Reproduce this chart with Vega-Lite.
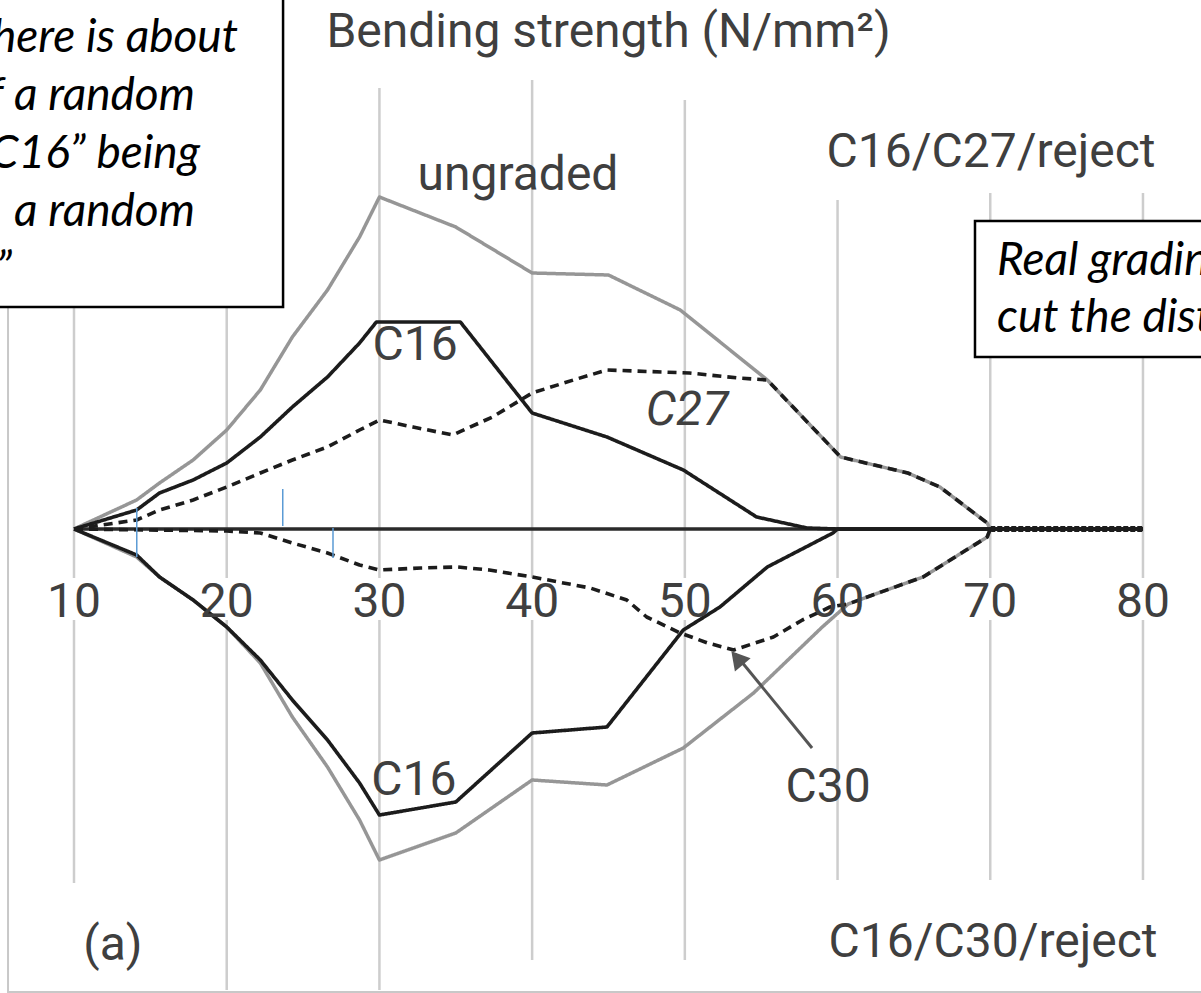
{
  "$schema": "https://vega.github.io/schema/vega-lite/v6.json",
  "width": 1201,
  "height": 993,
  "autosize": "none",
  "padding": 0,
  "background": "white",
  "config": {"view": {"stroke": null}},
  "datasets": {
    "curves": [
      {"curve": "top ungraded", "grade": "ungraded", "strength": 10, "share": 0},
      {"curve": "top ungraded", "grade": "ungraded", "strength": 14.1, "share": 2.9},
      {"curve": "top ungraded", "grade": "ungraded", "strength": 15.6, "share": 4.6},
      {"curve": "top ungraded", "grade": "ungraded", "strength": 17.8, "share": 6.9},
      {"curve": "top ungraded", "grade": "ungraded", "strength": 20, "share": 9.9},
      {"curve": "top ungraded", "grade": "ungraded", "strength": 22.2, "share": 13.9},
      {"curve": "top ungraded", "grade": "ungraded", "strength": 24.3, "share": 19.2},
      {"curve": "top ungraded", "grade": "ungraded", "strength": 26.6, "share": 23.9},
      {"curve": "top ungraded", "grade": "ungraded", "strength": 28.7, "share": 29.2},
      {"curve": "top ungraded", "grade": "ungraded", "strength": 30, "share": 33.2},
      {"curve": "top ungraded", "grade": "ungraded", "strength": 35, "share": 30.2},
      {"curve": "top ungraded", "grade": "ungraded", "strength": 40, "share": 25.6},
      {"curve": "top ungraded", "grade": "ungraded", "strength": 45, "share": 25.4},
      {"curve": "top ungraded", "grade": "ungraded", "strength": 49.7, "share": 21.9},
      {"curve": "top ungraded", "grade": "ungraded", "strength": 55.4, "share": 14.9},
      {"curve": "top ungraded", "grade": "ungraded", "strength": 60.2, "share": 7.2},
      {"curve": "top ungraded", "grade": "ungraded", "strength": 64.6, "share": 5.6},
      {"curve": "top ungraded", "grade": "ungraded", "strength": 66.7, "share": 4.2},
      {"curve": "top ungraded", "grade": "ungraded", "strength": 69.8, "share": 0.6},
      {"curve": "top ungraded", "grade": "ungraded", "strength": 70, "share": 0},
      {"curve": "top ungraded", "grade": "ungraded", "strength": 80, "share": 0},

      {"curve": "top C16", "grade": "C16", "strength": 10, "share": 0},
      {"curve": "top C16", "grade": "C16", "strength": 14.1, "share": 1.9},
      {"curve": "top C16", "grade": "C16", "strength": 15.6, "share": 3.6},
      {"curve": "top C16", "grade": "C16", "strength": 17.8, "share": 4.9},
      {"curve": "top C16", "grade": "C16", "strength": 20, "share": 6.6},
      {"curve": "top C16", "grade": "C16", "strength": 22.2, "share": 9.2},
      {"curve": "top C16", "grade": "C16", "strength": 24.3, "share": 12.2},
      {"curve": "top C16", "grade": "C16", "strength": 26.6, "share": 15.2},
      {"curve": "top C16", "grade": "C16", "strength": 28.7, "share": 18.6},
      {"curve": "top C16", "grade": "C16", "strength": 29.8, "share": 20.7},
      {"curve": "top C16", "grade": "C16", "strength": 35.3, "share": 20.7},
      {"curve": "top C16", "grade": "C16", "strength": 40, "share": 11.6},
      {"curve": "top C16", "grade": "C16", "strength": 44.9, "share": 9.2},
      {"curve": "top C16", "grade": "C16", "strength": 49.9, "share": 5.9},
      {"curve": "top C16", "grade": "C16", "strength": 54.7, "share": 1.2},
      {"curve": "top C16", "grade": "C16", "strength": 58, "share": 0.1},
      {"curve": "top C16", "grade": "C16", "strength": 60, "share": 0},
      {"curve": "top C16", "grade": "C16", "strength": 80, "share": 0},

      {"curve": "top C27", "grade": "C27", "strength": 10, "share": 0},
      {"curve": "top C27", "grade": "C27", "strength": 14.1, "share": 0.9},
      {"curve": "top C27", "grade": "C27", "strength": 15.6, "share": 1.9},
      {"curve": "top C27", "grade": "C27", "strength": 17.8, "share": 2.9},
      {"curve": "top C27", "grade": "C27", "strength": 20, "share": 4.2},
      {"curve": "top C27", "grade": "C27", "strength": 22.2, "share": 5.6},
      {"curve": "top C27", "grade": "C27", "strength": 24.3, "share": 6.9},
      {"curve": "top C27", "grade": "C27", "strength": 26.6, "share": 8.2},
      {"curve": "top C27", "grade": "C27", "strength": 28.7, "share": 9.9},
      {"curve": "top C27", "grade": "C27", "strength": 30, "share": 10.9},
      {"curve": "top C27", "grade": "C27", "strength": 32.2, "share": 10.2},
      {"curve": "top C27", "grade": "C27", "strength": 34.8, "share": 9.4},
      {"curve": "top C27", "grade": "C27", "strength": 37.4, "share": 11.2},
      {"curve": "top C27", "grade": "C27", "strength": 40, "share": 13.6},
      {"curve": "top C27", "grade": "C27", "strength": 42.7, "share": 14.9},
      {"curve": "top C27", "grade": "C27", "strength": 44.9, "share": 15.9},
      {"curve": "top C27", "grade": "C27", "strength": 50.3, "share": 15.6},
      {"curve": "top C27", "grade": "C27", "strength": 53.5, "share": 15.1},
      {"curve": "top C27", "grade": "C27", "strength": 55.4, "share": 14.9},
      {"curve": "top C27", "grade": "C27", "strength": 60.2, "share": 7.2},
      {"curve": "top C27", "grade": "C27", "strength": 64.6, "share": 5.6},
      {"curve": "top C27", "grade": "C27", "strength": 66.7, "share": 4.2},
      {"curve": "top C27", "grade": "C27", "strength": 69.8, "share": 0.6},
      {"curve": "top C27", "grade": "C27", "strength": 70, "share": 0},
      {"curve": "top C27", "grade": "C27", "strength": 80, "share": 0},

      {"curve": "bottom ungraded", "grade": "ungraded", "strength": 10, "share": 0},
      {"curve": "bottom ungraded", "grade": "ungraded", "strength": 14.1, "share": -2.8},
      {"curve": "bottom ungraded", "grade": "ungraded", "strength": 15.6, "share": -4.8},
      {"curve": "bottom ungraded", "grade": "ungraded", "strength": 17.8, "share": -7.1},
      {"curve": "bottom ungraded", "grade": "ungraded", "strength": 20, "share": -9.8},
      {"curve": "bottom ungraded", "grade": "ungraded", "strength": 22.2, "share": -13.4},
      {"curve": "bottom ungraded", "grade": "ungraded", "strength": 24.3, "share": -18.8},
      {"curve": "bottom ungraded", "grade": "ungraded", "strength": 26.6, "share": -23.8},
      {"curve": "bottom ungraded", "grade": "ungraded", "strength": 28.7, "share": -29.1},
      {"curve": "bottom ungraded", "grade": "ungraded", "strength": 30, "share": -33.1},
      {"curve": "bottom ungraded", "grade": "ungraded", "strength": 35, "share": -30.4},
      {"curve": "bottom ungraded", "grade": "ungraded", "strength": 40, "share": -25.1},
      {"curve": "bottom ungraded", "grade": "ungraded", "strength": 44.9, "share": -25.6},
      {"curve": "bottom ungraded", "grade": "ungraded", "strength": 49.9, "share": -21.9},
      {"curve": "bottom ungraded", "grade": "ungraded", "strength": 54.5, "share": -16.4},
      {"curve": "bottom ungraded", "grade": "ungraded", "strength": 59, "share": -9.8},
      {"curve": "bottom ungraded", "grade": "ungraded", "strength": 60.7, "share": -7.5},
      {"curve": "bottom ungraded", "grade": "ungraded", "strength": 62.3, "share": -6.6},
      {"curve": "bottom ungraded", "grade": "ungraded", "strength": 65.6, "share": -4.8},
      {"curve": "bottom ungraded", "grade": "ungraded", "strength": 69.8, "share": -0.8},
      {"curve": "bottom ungraded", "grade": "ungraded", "strength": 70, "share": 0},
      {"curve": "bottom ungraded", "grade": "ungraded", "strength": 80, "share": 0},

      {"curve": "bottom C16", "grade": "C16", "strength": 10, "share": 0},
      {"curve": "bottom C16", "grade": "C16", "strength": 14.1, "share": -2.6},
      {"curve": "bottom C16", "grade": "C16", "strength": 15.6, "share": -4.8},
      {"curve": "bottom C16", "grade": "C16", "strength": 17.8, "share": -7.1},
      {"curve": "bottom C16", "grade": "C16", "strength": 20, "share": -9.8},
      {"curve": "bottom C16", "grade": "C16", "strength": 22.2, "share": -13.1},
      {"curve": "bottom C16", "grade": "C16", "strength": 24.3, "share": -17.1},
      {"curve": "bottom C16", "grade": "C16", "strength": 26.6, "share": -21.1},
      {"curve": "bottom C16", "grade": "C16", "strength": 28.7, "share": -25.4},
      {"curve": "bottom C16", "grade": "C16", "strength": 30, "share": -28.6},
      {"curve": "bottom C16", "grade": "C16", "strength": 35, "share": -27.3},
      {"curve": "bottom C16", "grade": "C16", "strength": 40, "share": -20.4},
      {"curve": "bottom C16", "grade": "C16", "strength": 44.9, "share": -19.8},
      {"curve": "bottom C16", "grade": "C16", "strength": 49.9, "share": -10.1},
      {"curve": "bottom C16", "grade": "C16", "strength": 52.3, "share": -7.8},
      {"curve": "bottom C16", "grade": "C16", "strength": 55.4, "share": -3.8},
      {"curve": "bottom C16", "grade": "C16", "strength": 59.7, "share": -0.4},
      {"curve": "bottom C16", "grade": "C16", "strength": 60, "share": 0},
      {"curve": "bottom C16", "grade": "C16", "strength": 80, "share": 0},

      {"curve": "bottom C30", "grade": "C30", "strength": 10, "share": 0},
      {"curve": "bottom C30", "grade": "C30", "strength": 20, "share": -0.2},
      {"curve": "bottom C30", "grade": "C30", "strength": 22.2, "share": -0.4},
      {"curve": "bottom C30", "grade": "C30", "strength": 24.3, "share": -1.4},
      {"curve": "bottom C30", "grade": "C30", "strength": 26.6, "share": -2.4},
      {"curve": "bottom C30", "grade": "C30", "strength": 28.7, "share": -3.6},
      {"curve": "bottom C30", "grade": "C30", "strength": 30, "share": -4.1},
      {"curve": "bottom C30", "grade": "C30", "strength": 32.7, "share": -3.9},
      {"curve": "bottom C30", "grade": "C30", "strength": 35.1, "share": -3.8},
      {"curve": "bottom C30", "grade": "C30", "strength": 37.2, "share": -4.1},
      {"curve": "bottom C30", "grade": "C30", "strength": 40, "share": -4.8},
      {"curve": "bottom C30", "grade": "C30", "strength": 43.8, "share": -5.9},
      {"curve": "bottom C30", "grade": "C30", "strength": 46.2, "share": -7.1},
      {"curve": "bottom C30", "grade": "C30", "strength": 47.5, "share": -8.8},
      {"curve": "bottom C30", "grade": "C30", "strength": 49.7, "share": -10.4},
      {"curve": "bottom C30", "grade": "C30", "strength": 51.5, "share": -11.4},
      {"curve": "bottom C30", "grade": "C30", "strength": 53.2, "share": -12.1},
      {"curve": "bottom C30", "grade": "C30", "strength": 55.8, "share": -10.8},
      {"curve": "bottom C30", "grade": "C30", "strength": 57.7, "share": -9.1},
      {"curve": "bottom C30", "grade": "C30", "strength": 59.5, "share": -7.8},
      {"curve": "bottom C30", "grade": "C30", "strength": 60.7, "share": -7.5},
      {"curve": "bottom C30", "grade": "C30", "strength": 62.3, "share": -6.6},
      {"curve": "bottom C30", "grade": "C30", "strength": 65.6, "share": -4.8},
      {"curve": "bottom C30", "grade": "C30", "strength": 69.8, "share": -0.8},
      {"curve": "bottom C30", "grade": "C30", "strength": 70, "share": 0},
      {"curve": "bottom C30", "grade": "C30", "strength": 80, "share": 0}
    ],
    "grid": [
      {"strength": 10, "share": 46.9, "share2": -4.9}, {"strength": 10, "share": -9.1, "share2": -35.4},
      {"strength": 20, "share": 46.9, "share2": -4.9}, {"strength": 20, "share": -9.1, "share2": -46.1},
      {"strength": 30, "share": 44.1, "share2": -4.9}, {"strength": 30, "share": -9.1, "share2": -46.1},
      {"strength": 40, "share": 44.9, "share2": -4.9}, {"strength": 40, "share": -9.1, "share2": -43.1},
      {"strength": 50, "share": 42.9, "share2": -4.9}, {"strength": 50, "share": -9.1, "share2": -43.1},
      {"strength": 60, "share": 32.9, "share2": -4.9}, {"strength": 60, "share": -9.1, "share2": -35.1},
      {"strength": 70, "share": 33.6, "share2": -4.9}, {"strength": 70, "share": -9.1, "share2": -35.1},
      {"strength": 80, "share": 33.6, "share2": -4.9}, {"strength": 80, "share": -9.1, "share2": -35.1}
    ],
    "frame": [
      {"strength": 5.68, "strength2": 87, "share": -46.3, "share2": 56}
    ],
    "baseline": [
      {"strength": 10, "strength2": 80, "share": 0}
    ],
    "tail": [
      {"strength": 70, "strength2": 80, "share": 0}
    ],
    "markers": [
      {"strength": 14.11, "share": 2.1, "share2": -2.8},
      {"strength": 23.67, "share": 4.0, "share2": 0.3},
      {"strength": 26.96, "share": 0.1, "share2": -2.9}
    ],
    "labels": [
      {"text": "Bending strength (N/mm²)", "strength": 45.0, "share": 48.2},
      {"text": "ungraded", "strength": 39.07, "share": 33.9},
      {"text": "C16/C27/reject", "strength": 70.05, "share": 36.2},
      {"text": "C16", "strength": 32.33, "share": 16.9},
      {"text": "C16", "strength": 32.26, "share": -26.6},
      {"text": "C30", "strength": 59.38, "share": -27.3},
      {"text": "(a)", "strength": 12.55, "share": -43.1},
      {"text": "C16/C30/reject", "strength": 70.18, "share": -42.8},
      {"text": "10", "strength": 10, "share": -8.8},
      {"text": "20", "strength": 20, "share": -8.8},
      {"text": "30", "strength": 30, "share": -8.8},
      {"text": "40", "strength": 40, "share": -8.8},
      {"text": "50", "strength": 50, "share": -8.8},
      {"text": "60", "strength": 60, "share": -8.8},
      {"text": "70", "strength": 70, "share": -8.8},
      {"text": "80", "strength": 80, "share": -8.8}
    ],
    "slanted": [
      {"text": "C27", "strength": 50.14, "share": 10.4}
    ],
    "arrow": [
      {"strength": 58.33, "share": -21.9},
      {"strength": 53.3, "share": -12.5}
    ],
    "arrowhead": [
      {"strength": 53.42, "share": -12.9}
    ],
    "boxes": [
      {"strength": 4.4, "strength2": 23.69, "share": 22.2, "share2": 54},
      {"strength": 69.0, "strength2": 87, "share": 17.2, "share2": 30.8}
    ],
    "leftnote": [
      {"text": "there is about", "strength": 20.74, "share": 47.7},
      {"text": "of a random", "strength": 17.92, "share": 41.9},
      {"text": "“C16” being", "strength": 18.25, "share": 36.1},
      {"text": "a random", "strength": 17.92, "share": 30.3},
      {"text": "“C27”", "strength": 5.94, "share": 24.5}
    ],
    "rightnote": [
      {"text": "Real grading will", "strength": 70.44, "share": 25.4},
      {"text": "cut the distribution", "strength": 70.44, "share": 19.7}
    ]
  },
  "encoding": {
    "x": {"field": "strength", "type": "quantitative", "scale": {"domain": [5.154, 83.8], "nice": false, "zero": false}, "axis": null},
    "y": {"field": "share", "type": "quantitative", "scale": {"domain": [-46.4, 52.9], "nice": false, "zero": false}, "axis": null}
  },
  "layer": [
    {
      "data": {"name": "grid"},
      "mark": {"type": "rule", "color": "#cdcdcd", "strokeWidth": 2.5},
      "encoding": {"y2": {"field": "share2"}}
    },
    {
      "data": {"name": "frame"},
      "mark": {"type": "rect", "fill": "white", "fillOpacity": 0, "stroke": "#c8c8c8", "strokeWidth": 2},
      "encoding": {"x2": {"field": "strength2"}, "y2": {"field": "share2"}}
    },
    {
      "data": {"name": "baseline"},
      "mark": {"type": "rule", "color": "#2a2a2a", "strokeWidth": 3.5},
      "encoding": {"x2": {"field": "strength2"}}
    },
    {
      "data": {"name": "tail"},
      "mark": {"type": "rule", "color": "#1c1c1c", "strokeWidth": 6, "strokeDash": [5, 2]},
      "encoding": {"x2": {"field": "strength2"}}
    },
    {
      "data": {"name": "curves"},
      "transform": [{"filter": "datum.grade === 'ungraded'"}],
      "mark": {"type": "line", "strokeWidth": 3.5, "strokeJoin": "round"},
      "encoding": {
        "detail": {"field": "curve"},
        "color": {"field": "grade", "type": "nominal", "scale": {"domain": ["ungraded", "C16", "C27", "C30"], "range": ["#969696", "#1c1c1c", "#1c1c1c", "#1c1c1c"]}, "legend": null},
        "strokeDash": {"field": "grade", "type": "nominal", "scale": {"domain": ["ungraded", "C16", "C27", "C30"], "range": [[1, 0], [1, 0], [9, 6], [9, 6]]}, "legend": null}
      }
    },
    {
      "data": {"name": "curves"},
      "transform": [{"filter": "datum.grade !== 'ungraded'"}],
      "mark": {"type": "line", "strokeWidth": 3.6, "strokeJoin": "round"},
      "encoding": {
        "detail": {"field": "curve"},
        "color": {"field": "grade", "type": "nominal", "scale": {"domain": ["ungraded", "C16", "C27", "C30"], "range": ["#969696", "#1c1c1c", "#1c1c1c", "#1c1c1c"]}, "legend": null},
        "strokeDash": {"field": "grade", "type": "nominal", "scale": {"domain": ["ungraded", "C16", "C27", "C30"], "range": [[1, 0], [1, 0], [9, 6], [9, 6]]}, "legend": null}
      }
    },
    {
      "data": {"name": "markers"},
      "mark": {"type": "rule", "color": "#5b9bd5", "strokeWidth": 1.5},
      "encoding": {"y2": {"field": "share2"}}
    },
    {
      "data": {"name": "labels"},
      "mark": {"type": "text", "font": "Roboto", "fontSize": 48, "align": "center", "baseline": "alphabetic", "color": "#3f3f3f"},
      "encoding": {"text": {"field": "text"}}
    },
    {
      "data": {"name": "slanted"},
      "mark": {"type": "text", "font": "Roboto", "fontSize": 48, "fontStyle": "italic", "align": "center", "baseline": "alphabetic", "color": "#3f3f3f"},
      "encoding": {"text": {"field": "text"}}
    },
    {
      "data": {"name": "arrow"},
      "mark": {"type": "line", "color": "#555555", "strokeWidth": 3},
      "encoding": {}
    },
    {
      "data": {"name": "arrowhead"},
      "mark": {"type": "point", "shape": "triangle-up", "filled": true, "size": 420, "angle": 320, "color": "#555555", "opacity": 1}
    },
    {
      "data": {"name": "boxes"},
      "mark": {"type": "rect", "fill": "white", "stroke": "black", "strokeWidth": 2.5},
      "encoding": {"x2": {"field": "strength2"}, "y2": {"field": "share2"}}
    },
    {
      "data": {"name": "leftnote"},
      "mark": {"type": "text", "font": "Lato", "fontSize": 46, "fontStyle": "italic", "align": "right", "baseline": "alphabetic", "color": "black"},
      "encoding": {"text": {"field": "text"}}
    },
    {
      "data": {"name": "rightnote"},
      "mark": {"type": "text", "font": "Lato", "fontSize": 46, "fontStyle": "italic", "align": "left", "baseline": "alphabetic", "color": "black"},
      "encoding": {"text": {"field": "text"}}
    }
  ]
}
